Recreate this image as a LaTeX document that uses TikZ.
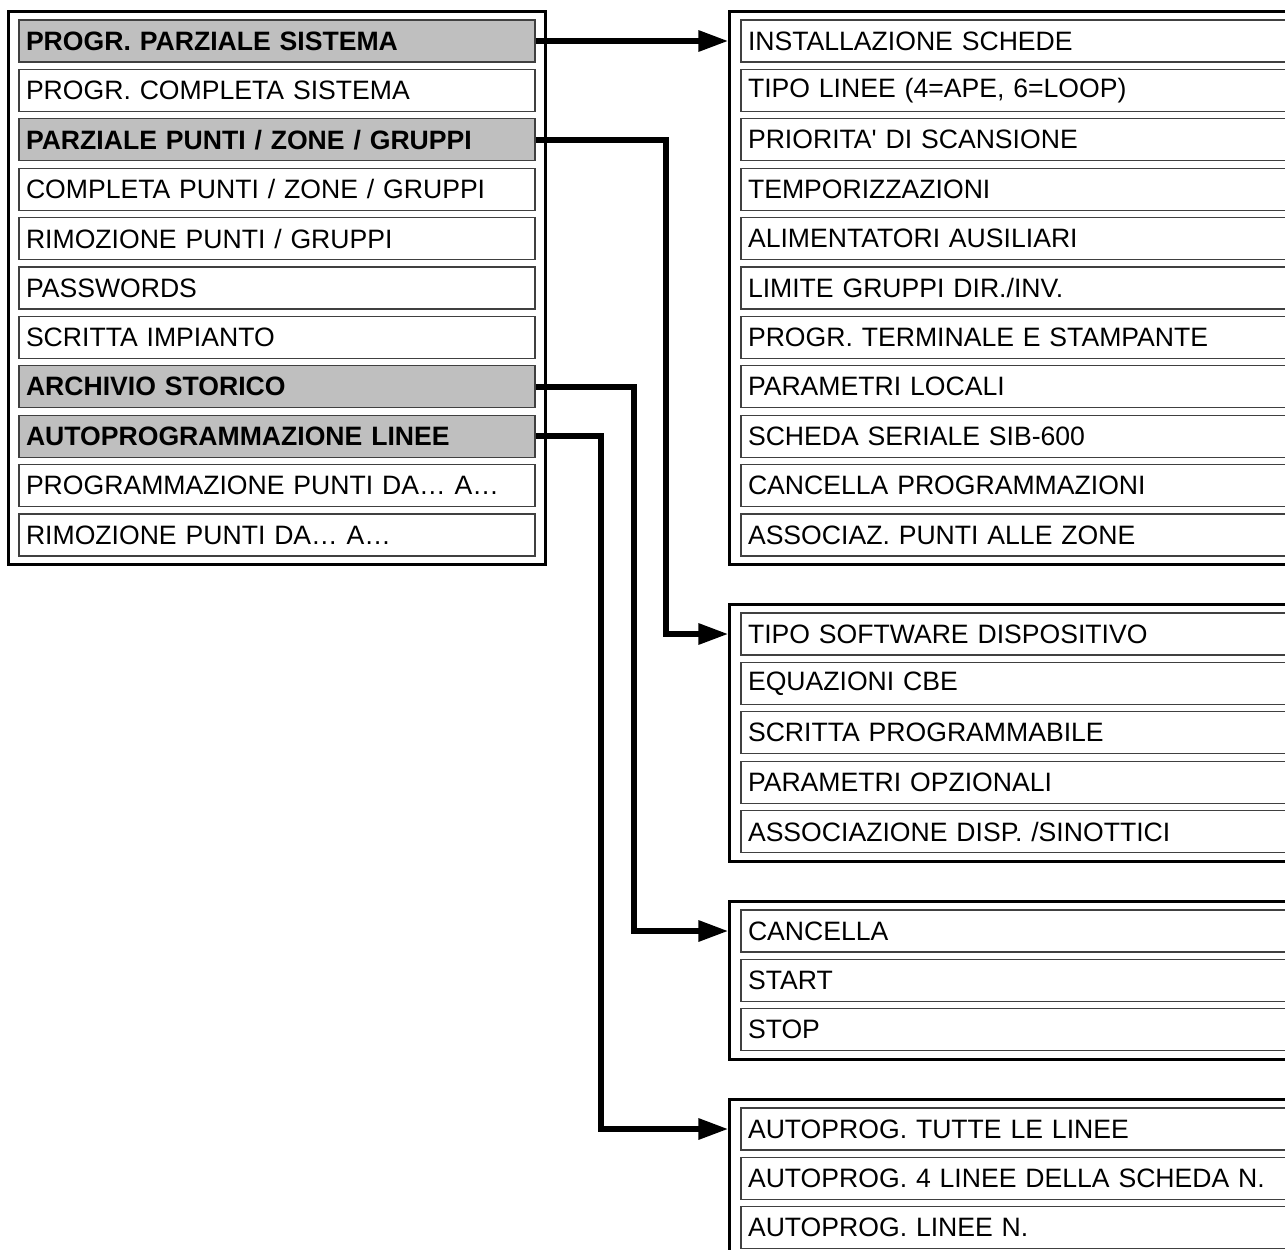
\documentclass[tikz,border=0pt]{standalone}
\usepackage{fontspec}
\setmainfont{Liberation Sans}
\usetikzlibrary{arrows.meta,fit}
\tikzstyle{voce}=[draw=black!75,line width=1.2pt,text width=502pt,inner xsep=7pt,minimum height=42pt,align=left,font=\fontsize{26.6}{30}\selectfont]
\tikzstyle{vocesx}=[voce]
\tikzstyle{vocedx}=[voce,text width=546pt]
\tikzstyle{scelta}=[fill=gray!50,font=\fontsize{26.6}{30}\selectfont\bfseries]
\tikzstyle{cornice}=[draw,line width=3pt,inner xsep=9.5pt,inner ysep=8pt]
\tikzstyle{freccia}=[line width=6pt,-{Triangle[length=30pt,width=20pt]}]

\begin{document}
\begin{tikzpicture}[x=1pt,y=-1pt]
      \useasboundingbox (0,0) rectangle (1285,1250);

      % menu principale
      \begin{scope}
        \node[vocesx,scelta] (l1) at (277, 41) {PROGR. PARZIALE SISTEMA};
        \node[vocesx] (l2) at (277, 90.4) {PROGR. COMPLETA SISTEMA};
        \node[vocesx,scelta] (l3) at (277, 139.8) {PARZIALE PUNTI / ZONE / GRUPPI};
        \node[vocesx] (l4) at (277, 189.2) {COMPLETA PUNTI / ZONE / GRUPPI};
        \node[vocesx] (l5) at (277, 238.6) {RIMOZIONE PUNTI / GRUPPI};
        \node[vocesx] (l6) at (277, 288) {PASSWORDS};
        \node[vocesx] (l7) at (277, 337.4) {SCRITTA IMPIANTO};
        \node[vocesx,scelta] (l8) at (277, 386.8) {ARCHIVIO STORICO};
        \node[vocesx,scelta] (l9) at (277, 436.2) {AUTOPROGRAMMAZIONE LINEE};
        \node[vocesx] (l10) at (277, 485.6) {PROGRAMMAZIONE PUNTI DA… A…};
        \node[vocesx] (l11) at (277, 535) {RIMOZIONE PUNTI DA… A…};
        \node[cornice,fit=(l1)(l11)] (menu) {};
      \end{scope}

      % sottomenu sistema
      \begin{scope}
        \node[vocedx] (r1) at (1021, 41) {INSTALLAZIONE SCHEDE};
        \node[vocedx] (r2) at (1021, 90.4) {TIPO LINEE (4=APE, 6=LOOP)};
        \node[vocedx] (r3) at (1021, 139.8) {PRIORITA\textquotesingle{} DI SCANSIONE};
        \node[vocedx] (r4) at (1021, 189.2) {TEMPORIZZAZIONI};
        \node[vocedx] (r5) at (1021, 238.6) {ALIMENTATORI AUSILIARI};
        \node[vocedx] (r6) at (1021, 288) {LIMITE GRUPPI DIR./INV.};
        \node[vocedx] (r7) at (1021, 337.4) {PROGR. TERMINALE E STAMPANTE};
        \node[vocedx] (r8) at (1021, 386.8) {PARAMETRI LOCALI};
        \node[vocedx] (r9) at (1021, 436.2) {SCHEDA SERIALE SIB-600};
        \node[vocedx] (r10) at (1021, 485.6) {CANCELLA PROGRAMMAZIONI};
        \node[vocedx] (r11) at (1021, 535) {ASSOCIAZ. PUNTI ALLE ZONE};
        \node[cornice,inner xsep=10.5pt,fit=(r1)(r11)] (sistema) {};
      \end{scope}

      % sottomenu punti
      \begin{scope}
        \node[vocedx] (p1) at (1021, 634) {TIPO SOFTWARE DISPOSITIVO};
        \node[vocedx] (p2) at (1021, 683.4) {EQUAZIONI CBE};
        \node[vocedx] (p3) at (1021, 732.8) {SCRITTA PROGRAMMABILE};
        \node[vocedx] (p4) at (1021, 782.2) {PARAMETRI OPZIONALI};
        \node[vocedx] (p5) at (1021, 831.6) {ASSOCIAZIONE DISP. /SINOTTICI};
        \node[cornice,inner xsep=10.5pt,fit=(p1)(p5)] (punti) {};
      \end{scope}

      % sottomenu archivio
      \begin{scope}
        \node[vocedx] (a1) at (1021, 931) {CANCELLA};
        \node[vocedx] (a2) at (1021, 980.4) {START};
        \node[vocedx] (a3) at (1021, 1029.8) {STOP};
        \node[cornice,inner xsep=10.5pt,fit=(a1)(a3)] (archivio) {};
      \end{scope}

      % sottomenu autoprogrammazione
      \begin{scope}
        \node[vocedx] (b1) at (1021, 1129) {AUTOPROG. TUTTE LE LINEE};
        \node[vocedx] (b2) at (1021, 1178.4) {AUTOPROG. 4 LINEE DELLA SCHEDA N.};
        \node[vocedx] (b3) at (1021, 1227.8) {AUTOPROG. LINEE N.};
        \node[cornice,inner xsep=10.5pt,fit=(b1)(b3)] (auto) {};
      \end{scope}

      % collegamenti
      \coordinate (g2) at (666, 0);
      \coordinate (g3) at (634, 0);
      \coordinate (g4) at (601, 0);
      \draw[freccia] (l1.east) -- (sistema.west |- r1);
      \draw[freccia] (l3.east) -- (l3.east -| g2) |- (punti.west |- p1);
      \draw[freccia] (l8.east) -- (l8.east -| g3) |- (archivio.west |- a1);
      \draw[freccia] (l9.east) -- (l9.east -| g4) |- (auto.west |- b1);
    \end{tikzpicture}
\end{document}
